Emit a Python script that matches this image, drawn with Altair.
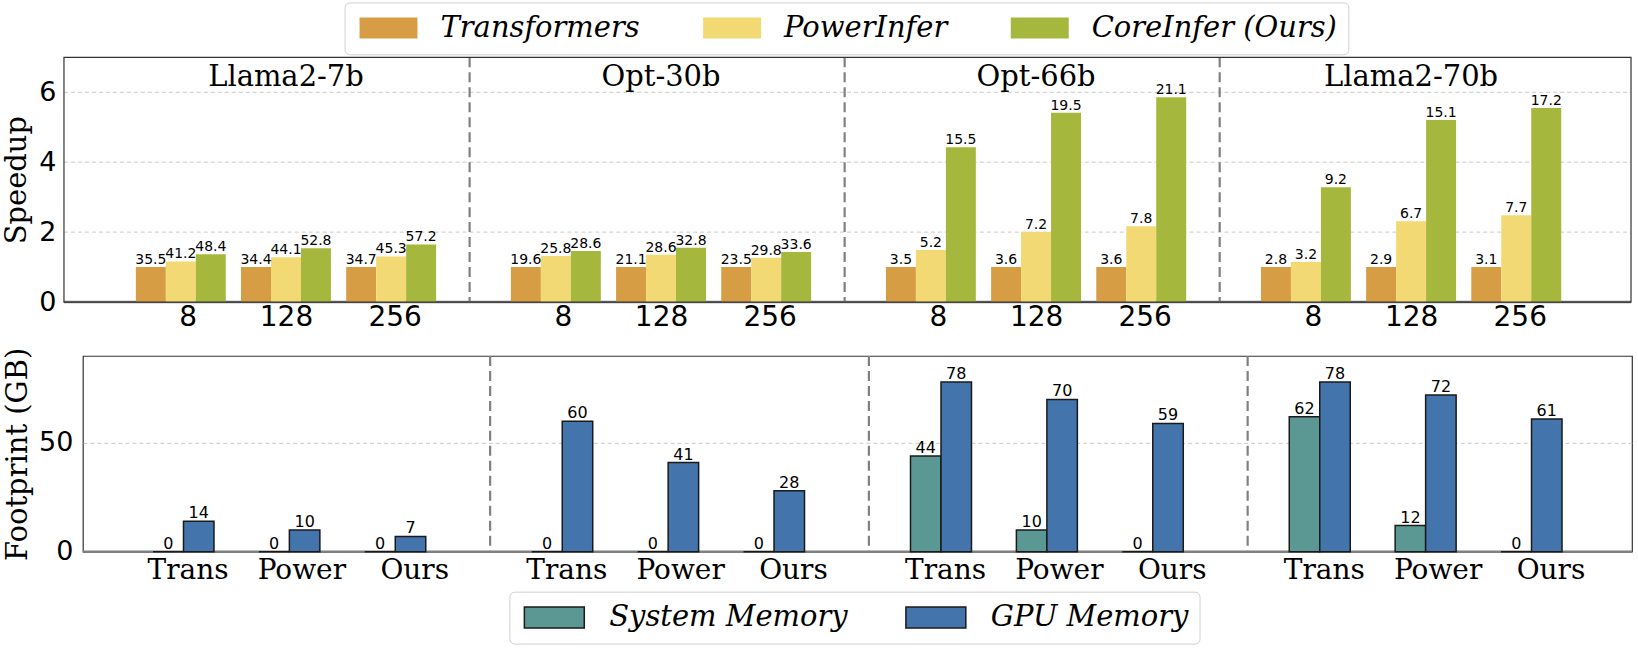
import altair as alt
import pandas as pd

# ---------------- data ----------------
models = ["Llama2-7b", "Opt-30b", "Opt-66b", "Llama2-70b"]
batch_sizes = ["8", "128", "256"]
methods = ["Transformers", "PowerInfer", "CoreInfer (Ours)"]
# decoding speed (tokens/s) shown above the bars, per model x batch size
transformers_tps = [35.5, 34.4, 34.7, 19.6, 21.1, 23.5, 3.5, 3.6, 3.6, 2.8, 2.9, 3.1]
powerinfer_tps = [41.2, 44.1, 45.3, 25.8, 28.6, 29.8, 5.2, 7.2, 7.8, 3.2, 6.7, 7.7]
coreinfer_tps = [48.4, 52.8, 57.2, 28.6, 32.8, 33.6, 15.5, 19.5, 21.1, 9.2, 15.1, 17.2]

systems = ["Trans", "Power", "Ours"]
memory_kinds = ["System Memory", "GPU Memory"]
system_mem = [0, 0, 0, 0, 0, 0, 44, 10, 0, 62, 12, 0]
gpu_mem = [14, 10, 7, 60, 41, 28, 78, 70, 59, 78, 72, 61]

speedup_ticks = [0, 2, 4, 6]
footprint_ticks = [0, 50]

method_colors = ["#D79D45", "#F2D974", "#A6B73E"]
memory_colors = ["#5B9893", "#4374AB"]

# ---------------- layout constants (data units) ----------------
TOP_MODEL_STEP = 3.566
TOP_BAR_W = 0.285
TOP_SEP_OFFSET = 2.746
TOP_X_DOMAIN = [-0.931, 13.789]
TOP_XLIM_LEFT = -1.111          # left edge of the upper panel frame
TOP_Y_DOMAIN = [0, 7]
TOP_TICK_SHIFT = [0.066, 0.0, 0.033]
BOT_MODEL_STEP = 3.577
BOT_BAR_W = 0.288
BOT_SEP_OFFSET = 2.896
BOT_X_DOMAIN = [-0.95, 13.68]
BOT_TICK_SHIFT = [0.038, 0.113, 0.179]

SERIF = "DejaVu Serif"
SANS = "DejaVu Sans"
FRAME = "#333333"

# ---------------- top panel table ----------------
tps = {"Transformers": transformers_tps, "PowerInfer": powerinfer_tps,
       "CoreInfer (Ours)": coreinfer_tps}
rows = []
for m, model in enumerate(models):
    for g, b in enumerate(batch_sizes):
        i = m * 3 + g
        base = transformers_tps[i]
        c = m * TOP_MODEL_STEP + g
        for k, meth in enumerate(methods):
            v = tps[meth][i]
            xc = c + (k - 1) * TOP_BAR_W
            rows.append(dict(model=model, batch=b, method=meth, tps=v,
                             speedup=v / base, zero=0.0, xc=xc,
                             x0=xc - TOP_BAR_W / 2, x1=xc + TOP_BAR_W / 2,
                             label=f"{v:.1f}"))
top_df = pd.DataFrame(rows)
top_ticks = [round(m * TOP_MODEL_STEP + g + TOP_TICK_SHIFT[g], 4)
             for m in range(len(models)) for g in range(3)]
top_titles = pd.DataFrame({"model": models,
                           "xc": [m * TOP_MODEL_STEP + 1 for m in range(len(models))]})
top_seps = pd.DataFrame({"xs": [m * TOP_MODEL_STEP + TOP_SEP_OFFSET for m in range(len(models) - 1)]})
# frame, grid and baseline of the upper panel span its full x limits
top_frame = pd.DataFrame({"fx0": [TOP_XLIM_LEFT], "fx1": [TOP_X_DOMAIN[1]],
                          "fy0": [TOP_Y_DOMAIN[0]], "fy1": [TOP_Y_DOMAIN[1]]})
top_grid = pd.DataFrame({"gy": speedup_ticks[1:], "fx0": TOP_XLIM_LEFT,
                         "fx1": TOP_X_DOMAIN[1]})
zero_df = pd.DataFrame({"zero": [0.0]})

# ---------------- bottom panel table ----------------
rows = []
for m, model in enumerate(models):
    for g, s in enumerate(systems):
        i = m * 3 + g
        c = m * BOT_MODEL_STEP + g
        for k, (kind, vals) in enumerate(zip(memory_kinds, [system_mem, gpu_mem])):
            x0 = c + (k - 1) * BOT_BAR_W
            rows.append(dict(model=model, system=s, kind=kind, mem=vals[i], zero=0.0,
                             x0=x0, x1=x0 + BOT_BAR_W, xc=x0 + BOT_BAR_W / 2,
                             label=str(vals[i])))
bot_df = pd.DataFrame(rows)
bot_ticks = [round(m * BOT_MODEL_STEP + g + BOT_TICK_SHIFT[g], 4)
             for m in range(len(models)) for g in range(3)]
bot_seps = pd.DataFrame({"xs": [m * BOT_MODEL_STEP + BOT_SEP_OFFSET for m in range(len(models) - 1)]})


def label_expr(ticks, names):
    parts = []
    for idx, t in enumerate(ticks[:-1]):
        parts.append(f"datum.value < {round(t + 0.3, 4)} ? '{names[idx % 3]}' : ")
    return "".join(parts) + f"'{names[(len(ticks) - 1) % 3]}'"


# ---------------- shared scales / axes ----------------
tx_scale = alt.Scale(domain=TOP_X_DOMAIN, nice=False, zero=False)
ty_scale = alt.Scale(domain=TOP_Y_DOMAIN, nice=False)
bx_scale = alt.Scale(domain=BOT_X_DOMAIN, nice=False, zero=False)
by_scale = alt.Scale(domain=[0, 90], nice=False)

tx_axis = alt.Axis(values=top_ticks, labelExpr=label_expr(top_ticks, batch_sizes),
                   title="", ticks=False, domain=False, grid=False, labelAngle=0,
                   labelFont=SANS, labelFontSize=28, labelColor="black",
                   labelPadding=2)
ty_axis = alt.Axis(values=speedup_ticks, title="Speedup", titleFont=SERIF,
                   titleFontSize=29, titleFontWeight="normal", titleColor="black",
                   titlePadding=7, labelFont=SANS, labelFontSize=27,
                   labelColor="black", labelPadding=27, ticks=False, domain=False,
                   grid=False)
bx_axis = alt.Axis(values=bot_ticks, labelExpr=label_expr(bot_ticks, systems),
                   title="", ticks=False, domain=False, grid=False, labelAngle=0,
                   labelFont=SERIF, labelFontSize=28, labelColor="black",
                   labelPadding=5)
by_axis = alt.Axis(values=footprint_ticks, title="Footprint (GB)", titleFont=SERIF,
                   titleFontSize=29, titleFontWeight="normal", titleColor="black",
                   titlePadding=6, labelFont=SANS, labelFontSize=27,
                   labelColor="black", labelPadding=10, ticks=False, domain=False,
                   grid=True, gridDash=[4, 3], gridColor="#bbbbbb", gridWidth=0.8)

# ---------------- top chart ----------------
top_gridlines = alt.Chart(top_grid).mark_rule(
    color="#bbbbbb", strokeWidth=0.8, strokeDash=[4, 3]
).encode(
    x=alt.X("fx0:Q", scale=tx_scale, axis=tx_axis),
    x2="fx1:Q",
    y=alt.Y("gy:Q", scale=ty_scale, axis=ty_axis),
)

top_zero = alt.Chart(top_frame).mark_rule(color="#7f7f7f", strokeWidth=2.5).encode(
    x=alt.X("fx0:Q", scale=tx_scale, axis=tx_axis),
    x2="fx1:Q",
    y=alt.Y("fy0:Q", scale=ty_scale, axis=ty_axis),
)

top_bars = alt.Chart(top_df).mark_rect().encode(
    x=alt.X("x0:Q", scale=tx_scale, axis=tx_axis),
    x2="x1:Q",
    y=alt.Y("speedup:Q", scale=ty_scale, axis=ty_axis),
    y2="zero:Q",
    fill=alt.Fill("method:N", title=None,
                  scale=alt.Scale(domain=methods, range=method_colors),
                  legend=alt.Legend(orient="none", legendX=262, legendY=-55,
                                    direction="horizontal",
                                    symbolType="M-1,-1H4.524V1H-1Z",
                                    symbolSize=441, symbolStrokeWidth=0,
                                    symbolOpacity=1,
                                    labelFont=SERIF, labelFontStyle="italic",
                                    labelFontSize=29, labelColor="black",
                                    labelOffset=56, labelLimit=500,
                                    columnPadding=59, padding=11,
                                    strokeColor="#d0d0d0", cornerRadius=5,
                                    fillColor="white")),
)

top_labels = alt.Chart(top_df).mark_text(
    font=SANS, fontSize=14, baseline="alphabetic", dy=-3, color="black"
).encode(
    x=alt.X("xc:Q", scale=tx_scale, axis=tx_axis),
    y=alt.Y("speedup:Q", scale=ty_scale, axis=ty_axis),
    text="label:N",
)

top_model_titles = alt.Chart(top_titles).mark_text(
    font=SERIF, fontSize=29, baseline="alphabetic", color="black"
).encode(
    x=alt.X("xc:Q", scale=tx_scale, axis=tx_axis),
    y=alt.value(29),
    text="model:N",
)

top_sep = alt.Chart(top_seps).mark_rule(
    color="#808080", strokeWidth=2.2, strokeDash=[10, 5]
).encode(x=alt.X("xs:Q", scale=tx_scale, axis=tx_axis))

top_border = alt.Chart(top_frame).mark_rect(
    fillOpacity=0, stroke=FRAME, strokeWidth=1.2
).encode(
    x=alt.X("fx0:Q", scale=tx_scale, axis=tx_axis),
    x2="fx1:Q",
    y=alt.Y("fy0:Q", scale=ty_scale, axis=ty_axis),
    y2="fy1:Q",
)

top = alt.layer(top_gridlines, top_zero, top_bars, top_labels, top_model_titles,
                top_sep, top_border).properties(
    width=1550, height=245,
    view=alt.ViewBackground(stroke="transparent"))

# ---------------- bottom chart ----------------
bot_zero = alt.Chart(zero_df).mark_rule(color="#7f7f7f", strokeWidth=2.5).encode(
    y=alt.Y("zero:Q", scale=by_scale, axis=by_axis))

bot_bars = alt.Chart(bot_df).mark_rect(stroke="#1a1a1a", strokeWidth=1.5).encode(
    x=alt.X("x0:Q", scale=bx_scale, axis=bx_axis),
    x2="x1:Q",
    y=alt.Y("mem:Q", scale=by_scale, axis=by_axis),
    y2="zero:Q",
    fill=alt.Fill("kind:N", title=None,
                  scale=alt.Scale(domain=memory_kinds, range=memory_colors),
                  legend=alt.Legend(orient="none", legendX=427, legendY=236,
                                    direction="horizontal",
                                    symbolType="M-1,-1H4.714V1H-1Z",
                                    symbolSize=441, symbolStrokeColor="#1a1a1a",
                                    symbolStrokeWidth=1.5, symbolOpacity=1,
                                    labelFont=SERIF, labelFontStyle="italic",
                                    labelFontSize=29, labelColor="black",
                                    labelOffset=60, labelLimit=500,
                                    columnPadding=54, padding=11,
                                    strokeColor="#d0d0d0", cornerRadius=5,
                                    fillColor="white")),
)

bot_labels = alt.Chart(bot_df).mark_text(
    font=SANS, fontSize=16, baseline="alphabetic", dy=-3, color="black"
).encode(
    x=alt.X("xc:Q", scale=bx_scale, axis=bx_axis),
    y=alt.Y("mem:Q", scale=by_scale, axis=by_axis),
    text="label:N",
)

bot_sep = alt.Chart(bot_seps).mark_rule(
    color="#808080", strokeWidth=2.2, strokeDash=[10, 5]
).encode(x=alt.X("xs:Q", scale=bx_scale, axis=bx_axis))

bottom = alt.layer(bot_zero, bot_bars, bot_labels, bot_sep).properties(
    width=1551, height=196)

chart = alt.vconcat(top, bottom, spacing=13).resolve_scale(
    fill="independent"
).resolve_legend(fill="independent").properties(
    padding={"left": 2, "top": 0, "right": 4, "bottom": 2},
    background="white",
).configure_view(stroke=FRAME, strokeWidth=1.2)

chart.save("out.html", embed_options={"renderer": "svg", "actions": False})
